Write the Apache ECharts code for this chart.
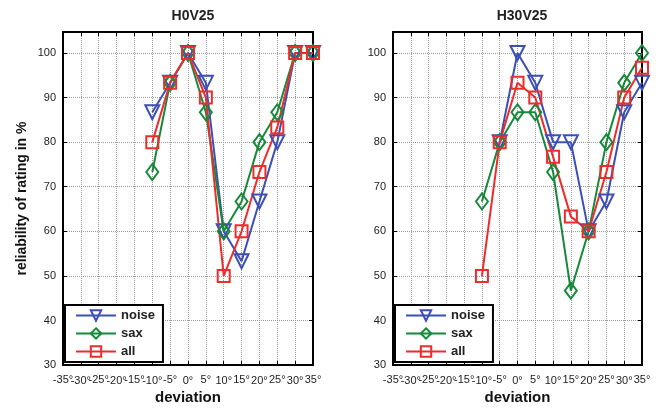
<!DOCTYPE html>
<html><head><meta charset="utf-8">
<script src="https://cdn.jsdelivr.net/npm/echarts@6/dist/echarts.min.js"></script>
<style>html,body{margin:0;padding:0;background:#fff}#c{width:661px;height:410px}</style>
</head><body><div id="c"></div>
<script>
// ---- data ----
const deviations = [-10, -5, 0, 5, 10, 15, 20, 25, 30, 35];
const panelTitles = ['H0V25', 'H30V25'];
const seriesNames = ['noise', 'sax', 'all'];
const leftNoise = [86.7, 93.3, 100, 93.3, 60, 53.3, 66.7, 80, 100, 100];
const leftSax   = [73.3, 93.3, 100, 86.7, 60, 66.7, 80, 86.7, 100, 100];
const leftAll   = [80, 93.3, 100, 90, 50, 60, 73.3, 83.3, 100, 100];
const rightNoise = [null, 80, 100, 93.3, 80, 80, 60, 66.7, 86.7, 93.3];
const rightSax   = [66.7, 80, 86.7, 86.7, 73.3, 46.7, 60, 80, 93.3, 100];
const rightAll   = [50, 80, 93.3, 90, 76.7, 63.3, 60, 73.3, 90, 96.7];
const yTicks = [30, 40, 50, 60, 70, 80, 90, 100];
const xTicks = [-35, -30, -25, -20, -15, -10, -5, 0, 5, 10, 15, 20, 25, 30, 35];
// labels split into two interleaved sets so the tight labels are all kept
const xLabelsA = xTicks.filter((v, i) => i % 2 === 0);
const xLabelsB = xTicks.filter((v, i) => i % 2 === 1);

const colors = { noise: '#3c4fb4', sax: '#17893a', all: '#ee2c2c' };
const symbols = {
  noise: { symbol: 'triangle', symbolRotate: 180, symbolSize: 14 },
  sax: { symbol: 'diamond', symbolRotate: 0, symbolSize: [12, 16] },
  all: { symbol: 'rect', symbolRotate: 0, symbolSize: 12 }
};
const font = 'Liberation Sans, Arial, sans-serif';

const chart = echarts.init(document.getElementById('c'), null, { renderer: 'canvas' });

const gridL = { left: 63, right: 348, top: 32, bottom: 42 };
const gridR = { left: 393, right: 19, top: 32, bottom: 42 };
const grids = [gridL, gridR, Object.assign({}, gridL), Object.assign({}, gridR)];

const labelStyle = { fontFamily: font, fontSize: 11, color: '#222' };
const xLabelMargin = 9;

function xAx(gi, primary) {
  return {
    type: 'value', gridIndex: gi, min: -35, max: 35, interval: 5,
    position: primary ? 'bottom' : 'top',
    name: primary ? 'deviation' : '', nameLocation: 'middle', nameGap: 24,
    nameTextStyle: { fontFamily: font, fontWeight: 'bold', fontSize: 15, color: '#111' },
    axisLine: { show: true, onZero: false, lineStyle: { color: '#000', width: 2 } },
    axisTick: { show: true, inside: true, length: 4, lineStyle: { color: '#000', width: 1 },
      customValues: xTicks },
    axisLabel: Object.assign({ show: primary, margin: xLabelMargin,
      hideOverlap: false, showMinLabel: true, showMaxLabel: true,
      customValues: xLabelsA, formatter: v => v + '°' }, labelStyle),
    splitLine: { show: primary, lineStyle: { type: 'dotted', color: '#9a9a9a', width: 1 } }
  };
}
// overlaid helper axis printing the other half of the tick labels
function xAxB(gi) {
  return {
    type: 'value', gridIndex: gi, min: -35, max: 35, interval: 5, position: 'bottom',
    axisLine: { show: true, onZero: false, lineStyle: { color: 'rgba(0,0,0,0)', width: 2 } },
    axisTick: { show: false }, splitLine: { show: false },
    axisLabel: Object.assign({ show: true, margin: xLabelMargin - 2, hideOverlap: false,
      showMinLabel: true, showMaxLabel: true,
      customValues: xLabelsB, formatter: v => v + '°' }, labelStyle)
  };
}
function yAx(gi, primary) {
  return {
    type: 'value', gridIndex: gi, min: 30, max: 104.7, interval: 10,
    position: primary ? 'left' : 'right',
    name: (primary && gi === 0) ? 'reliability of rating in %' : '',
    nameLocation: 'middle', nameGap: 34,
    nameTextStyle: { fontFamily: font, fontWeight: 'bold', fontSize: 14, color: '#111' },
    axisLine: { show: true, onZero: false, lineStyle: { color: '#000', width: 2 } },
    axisTick: { show: true, inside: true, length: 4, lineStyle: { color: '#000', width: 1 },
      customValues: yTicks },
    axisLabel: Object.assign({ show: primary, margin: 7,
      customValues: yTicks, formatter: v => String(v) }, labelStyle),
    splitLine: { show: primary, lineStyle: { type: 'dotted', color: '#9a9a9a', width: 1 } }
  };
}
function yAxHidden(gi) {
  return { type: 'value', gridIndex: gi, min: 30, max: 104.7, show: false };
}

function mkSeries(name, vals, gi) {
  const s = symbols[name];
  return {
    name: name, type: 'line', xAxisIndex: gi * 2, yAxisIndex: gi * 2,
    data: deviations.map((d, i) => [d, vals[i]]).filter(p => p[1] != null),
    symbol: s.symbol, symbolRotate: s.symbolRotate, symbolSize: s.symbolSize,
    showAllSymbol: true,
    lineStyle: { color: colors[name], width: 2 },
    itemStyle: { color: 'rgba(255,255,255,0)', borderColor: colors[name], borderWidth: 2 },
    emphasis: { disabled: true },
    animation: false
  };
}

function mkLegend(left) {
  return {
    orient: 'vertical', left: left, top: 305,
    data: seriesNames,
    itemWidth: 40, itemHeight: 13, itemGap: 5,
    backgroundColor: '#fff',
    borderColor: '#000', borderWidth: 2, borderRadius: 0,
    padding: [4, 8, 4, 10],
    textStyle: { fontFamily: font, fontWeight: 'bold', fontSize: 13, color: '#222' },
    selectedMode: false
  };
}

chart.setOption({
  animation: false,
  backgroundColor: '#fff',
  title: [
    { text: panelTitles[0], left: 188, top: 4, textAlign: 'center',
      textStyle: { fontFamily: font, fontWeight: 'bold', fontSize: 14, color: '#222' } },
    { text: panelTitles[1], left: 517, top: 4, textAlign: 'center',
      textStyle: { fontFamily: font, fontWeight: 'bold', fontSize: 14, color: '#222' } }
  ],
  legend: [mkLegend(65), mkLegend(395)],
  grid: grids,
  xAxis: [xAx(0, true), xAx(0, false), xAx(1, true), xAx(1, false), xAxB(2), xAxB(3)],
  yAxis: [yAx(0, true), yAx(0, false), yAx(1, true), yAx(1, false), yAxHidden(2), yAxHidden(3)],
  series: [
    mkSeries('noise', leftNoise, 0), mkSeries('sax', leftSax, 0), mkSeries('all', leftAll, 0),
    mkSeries('noise', rightNoise, 1), mkSeries('sax', rightSax, 1), mkSeries('all', rightAll, 1)
  ]
});
</script>
</body></html>
